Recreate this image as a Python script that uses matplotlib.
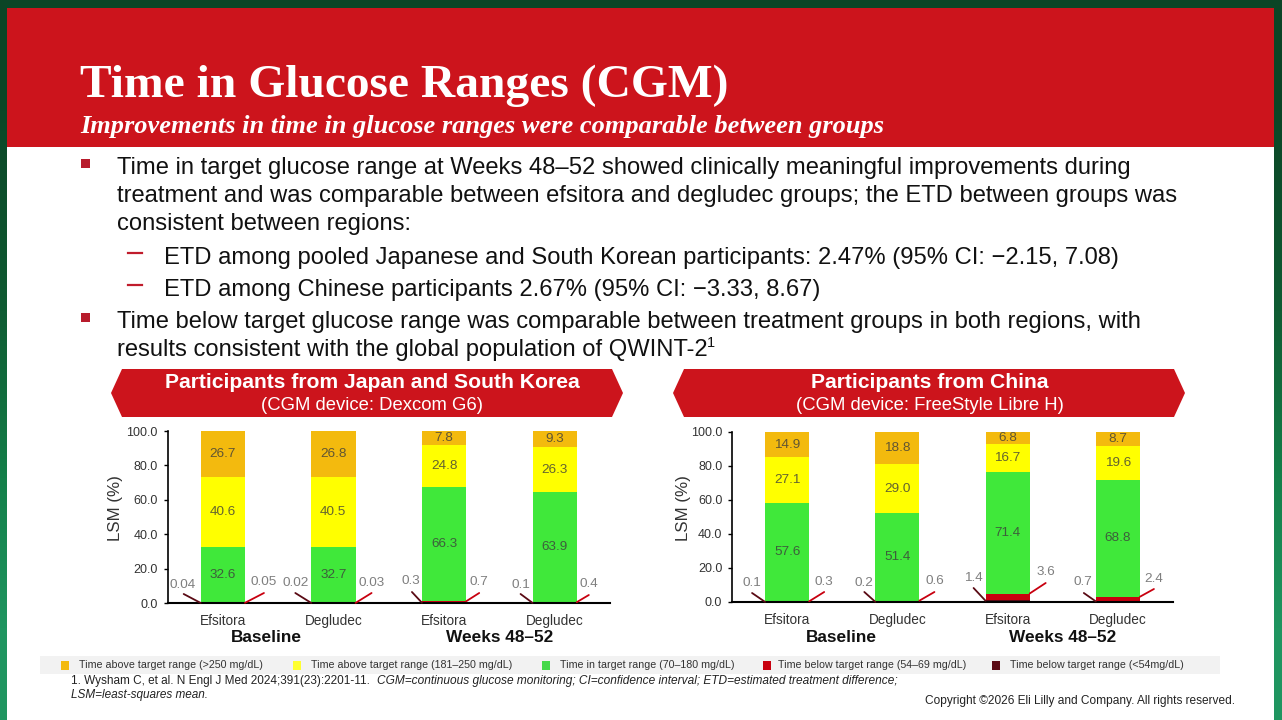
import matplotlib
matplotlib.use("Agg")
import numpy as np
import matplotlib.pyplot as plt
from matplotlib.patches import Polygon, Rectangle

W, H = 1282, 720

# data, stacked from the bottom of the bar up
categories = ["Efsitora", "Degludec", "Efsitora", "Degludec"]
groups = ["Baseline", "Weeks 48–52"]
yticks = [0, 20, 40, 60, 80, 100]

jk_below54 = [0.04, 0.02, 0.3, 0.1]
jk_below70 = [0.05, 0.03, 0.7, 0.4]
jk_target = [32.6, 32.7, 66.3, 63.9]
jk_above180 = [40.6, 40.5, 24.8, 26.3]
jk_above250 = [26.7, 26.8, 7.8, 9.3]

cn_below54 = [0.1, 0.2, 1.4, 0.7]
cn_below70 = [0.3, 0.6, 3.6, 2.4]
cn_target = [57.6, 51.4, 71.4, 68.8]
cn_above180 = [27.1, 29.0, 16.7, 19.6]
cn_above250 = [14.9, 18.8, 6.8, 8.7]

legend_labels = [
    "Time above target range (>250 mg/dL)",
    "Time above target range (181–250 mg/dL)",
    "Time in target range (70–180 mg/dL)",
    "Time below target range (54–69 mg/dL)",
    "Time below target range (<54mg/dL)",
]

ORANGE = "#f3ba0e"
YELLOW = "#ffff00"
GREEN = "#40e83a"
RED = "#c8000f"
DARK = "#5a0a14"
BRAND = "#cc141c"

plt.rcParams["font.family"] = ["Liberation Sans", "DejaVu Sans"]

fig = plt.figure(figsize=(W / 100, H / 100), dpi=100)

# full figure axes in pixels for the slide itself
bg = fig.add_axes([0, 0, 1, 1])
bg.axis("off")

grad = np.array([[0.0], [0.25], [0.6], [1.0]])
cmap = matplotlib.colors.LinearSegmentedColormap.from_list("bg", ["#0b4526", "#0f5c33", "#14804a", "#1f9560"])
bg.imshow(grad, cmap=cmap, extent=(0, W, H, 0), aspect="auto", zorder=0, interpolation="bilinear")
bg.add_patch(Rectangle((7, 8), 1267, 712, fc="white", ec="none", zorder=1))
bg.add_patch(Rectangle((7, 8), 1267, 139, fc=BRAND, ec="none", zorder=2))
bg.set_xlim(0, W)
bg.set_ylim(H, 0)

bg.text(80, 86, "Time in Glucose Ranges (CGM)", color="white", fontsize=34.2, fontweight="bold",
        family="Liberation Serif", va="center", zorder=3)
bg.text(80, 126.5, "Improvements in time in glucose ranges were comparable between groups", color="white",
        fontsize=19.02, fontweight="bold", style="italic", family="Liberation Serif", va="center", zorder=3)

body = [
    (117, 168, "Time in target glucose range at Weeks 48–52 showed clinically meaningful improvements during"),
    (117, 196, "treatment and was comparable between efsitora and degludec groups; the ETD between groups was"),
    (117, 224, "consistent between regions:"),
    (164, 258, "ETD among pooled Japanese and South Korean participants: 2.47% (95% CI: −2.15, 7.08)"),
    (164, 290, "ETD among Chinese participants 2.67% (95% CI: −3.33, 8.67)"),
    (117, 322, "Time below target glucose range was comparable between treatment groups in both regions, with"),
    (117, 350, "results consistent with the global population of QWINT-2"),
]
for x, y, s in body:
    bg.text(x, y, s, fontsize=17.15, color="#111111", va="center", zorder=3)
bg.text(707, 343, "1", fontsize=10.5, color="#111111", va="center", zorder=3)
for y in [163, 317]:
    bg.add_patch(Rectangle((81, y - 4.5), 9, 9, fc="#b81c2c", ec="none", zorder=3))
for y in [253, 285]:
    bg.plot([128, 142], [y, y], color="#c01c2c", lw=1.6, zorder=3)


def banner(x0, x1, mid, title, sub):
    pts = [(x0, 393), (x0 + 11, 369), (x1 - 11, 369), (x1, 393), (x1 - 11, 417), (x0 + 11, 417)]
    bg.add_patch(Polygon(pts, closed=True, fc=BRAND, ec="none", zorder=3))
    bg.text(mid, 382, title, color="white", fontsize=15.2, fontweight="bold", ha="center", va="center", zorder=4)
    bg.text(mid, 405.5, sub, color="white", fontsize=13.3, ha="center", va="center", zorder=4)


banner(111, 623, 372, "Participants from Japan and South Korea", "(CGM device: Dexcom G6)")
banner(673, 1185, 929.5, "Participants from China", "(CGM device: FreeStyle Libre H)")


def chart(box, stacks, label_off, line_off, group_x, ylabel_x):
    x0, x1, y0, y100 = box
    ax = fig.add_axes([x0 / W, 1 - y0 / H, (x1 - x0) / W, (y0 - y100) / H])
    ax.patch.set_alpha(0)
    below54, below70, target, above180, above250 = stacks
    x = np.arange(4)
    width = 0.4
    bottom = np.zeros(4)
    for vals, col, lab in zip(stacks, [DARK, RED, GREEN, YELLOW, ORANGE], [0, 0, 1, 1, 1]):
        bars = ax.bar(x, vals, width, bottom=bottom, color=col)
        if lab:
            ax.bar_label(bars, labels=[f"{v:.1f}" for v in vals], label_type="center",
                         fontsize=9.7, color="#3c3c3c", alpha=0.8)
        bottom = bottom + np.array(vals)

    px_per_unit = (y0 - y100) / 100
    for i in range(4):
        tops = [below54[i] / 2, below54[i] + below70[i]]
        for side, vals in enumerate([below54, below70]):
            sign = -1 if side == 0 else 1
            col = DARK if side == 0 else RED
            k = 2 * i + side
            # leader from the bar corner to just below the label
            end = (line_off[k][0] - sign * 22, line_off[k][1] - tops[side] * px_per_unit)
            ax.annotate("", xy=(i + sign * width / 2, tops[side]), xytext=end, textcoords="offset pixels",
                        arrowprops=dict(arrowstyle="-", color=col, lw=1.3, shrinkA=0, shrinkB=0))
            txt = f"{vals[i]:.2f}" if vals[i] < 0.1 else f"{vals[i]:.1f}"
            ax.annotate(txt, xy=(i, 0), xytext=label_off[k], textcoords="offset pixels",
                        fontsize=9.7, color="#7f7f7f", ha="center", va="center")

    ax.set_xlim(-0.5, 3.5)
    ax.set_ylim(0, 100)
    ax.set_yticks(yticks)
    ax.set_yticklabels([f"{t:.1f}" for t in yticks], fontsize=9, color="#333333")
    ax.set_xticks(x)
    ax.set_xticklabels(categories, fontsize=9.8, color="#333333")
    ax.tick_params(axis="x", length=0, pad=8)
    ax.tick_params(axis="y", length=3, width=1, pad=4)
    ax.set_ylabel("LSM (%)", fontsize=12.2, color="#333333")
    ax.yaxis.set_label_coords((ylabel_x - x0) / (x1 - x0), 0.55)
    for s in ["top", "right"]:
        ax.spines[s].set_visible(False)
    ax.spines["left"].set_linewidth(1.2)
    ax.spines["bottom"].set_linewidth(1.5)
    for gx, g in zip(group_x, groups):
        bg.text(gx, 637, g, fontsize=12.4, fontweight="bold", color="#111111", ha="center", va="center", zorder=4)


# offsets in pixels from the category centre, left then right label of each bar
jk_label_off = [(-40, 18), (41, 21), (-38, 20), (38, 20), (-33, 22), (35, 21), (-34, 18), (34, 19)]
jk_line_off = [(-39, 9), (41, 10), (-38, 10), (38, 10), (-32, 11), (35, 10), (-34, 9), (34, 8)]
cn_label_off = [(-35, 19), (37, 20), (-33, 19), (38, 21), (-34, 24), (38, 30), (-35, 20), (36, 23)]
cn_line_off = [(-35, 9), (37, 10), (-33, 10), (37, 10), (-34, 14), (38, 19), (-34, 9), (36, 13)]

chart((167.5, 610, 603, 431), [jk_below54, jk_below70, jk_target, jk_above180, jk_above250],
      jk_label_off, jk_line_off, (266, 500), 123)
chart((732, 1173, 602, 432), [cn_below54, cn_below70, cn_target, cn_above180, cn_above250],
      cn_label_off, cn_line_off, (841, 1063), 691)

# legend strip
bg.add_patch(Rectangle((40, 656), 1180, 18, fc="#f2f2f2", ec="none", zorder=3))
marker_x = [61, 293, 542, 763, 992]
text_x = [79, 311, 560, 778, 1010]
for mx, tx, lab, col in zip(marker_x, text_x, legend_labels, [ORANGE, "#ffff30", "#45d94a", RED, DARK]):
    bg.add_patch(Rectangle((mx, 660.5), 8, 9, fc=col, ec="none", zorder=4))
    bg.text(tx, 665, lab, fontsize=7.65, color="#333333", va="center", zorder=4)

# footnotes
bg.text(71, 681, "1. Wysham C, et al. N Engl J Med 2024;391(23):2201-11. ", fontsize=8.5, color="#222222", va="center", zorder=4)
bg.text(377, 681, "CGM=continuous glucose monitoring; CI=confidence interval; ETD=estimated treatment difference;",
        fontsize=8.58, style="italic", color="#222222", va="center", zorder=4)
bg.text(71, 695, "LSM=least-squares mean.", fontsize=8.5, style="italic", color="#222222", va="center", zorder=4)
bg.text(1235, 701, "Copyright ©2026 Eli Lilly and Company. All rights reserved.", fontsize=8.55, color="#222222",
        ha="right", va="center", zorder=4)

fig.savefig("out.png", dpi=100)
